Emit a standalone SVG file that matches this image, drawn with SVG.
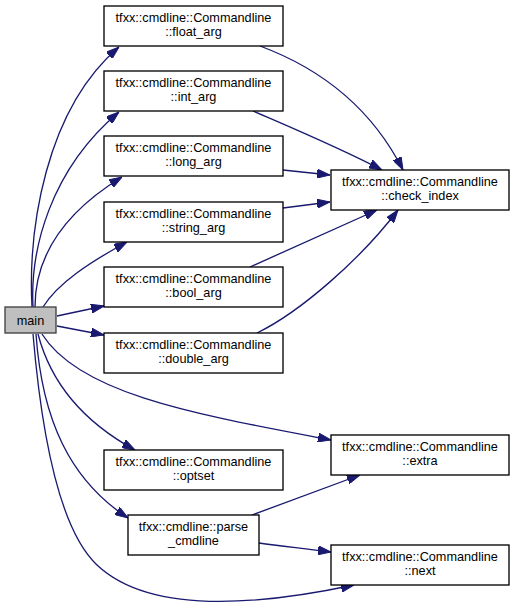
<svg xmlns="http://www.w3.org/2000/svg" width="515" height="611" viewBox="0 0 515 611">
<style>
.n rect{fill:#ffffff;stroke:#000000;stroke-width:1.33}
.n.m rect{fill:#bfbfbf;stroke:#404040}
.n text{font-family:"Liberation Sans",Arial,Helvetica,sans-serif;font-size:12.7px;fill:#000000;text-anchor:middle}
.e path{fill:none;stroke:#191970;stroke-width:1.33;marker-end:url(#ah)}
</style>
<defs>
<marker id="ah" viewBox="0 0 13 9" refX="13" refY="4.5" markerWidth="13" markerHeight="9" markerUnits="userSpaceOnUse" orient="auto">
<path d="M0,0 L13,4.5 L0,9 z" fill="#191970" stroke="#191970" stroke-width="1"/>
</marker>
</defs>
<rect width="515" height="611" fill="#ffffff"/>
<g id="edges" class="e">
<path d="M32,307 C28,230 45,110 119,47"/>
<path d="M33,307 C30,250 50,170 119,112"/>
<path d="M35,307 C35,260 60,215 122,177"/>
<path d="M43,307 C58,283 90,262 127,242"/>
<path d="M57,316 L104,306"/>
<path d="M57,326 L104,335"/>
<path d="M42,334 C80,395 200,415 331,440"/>
<path d="M38,334 C50,380 80,420 135,450"/>
<path d="M36,334 C42,420 70,480 128,518"/>
<path d="M33,334 C42,440 60,530 97,565 C150,615 260,605 354,585"/>
<path d="M260,46 C330,72 375,115 403,170"/>
<path d="M253,111 C290,127 340,148 382,170"/>
<path d="M283,170 L330,175"/>
<path d="M283,208 L330,202"/>
<path d="M250,267 L377,210"/>
<path d="M257,333 C300,312 360,260 398,210"/>
<path d="M252,515 L360,475"/>
<path d="M259,543 C280,546 300,548 331,552"/>
</g>
<g id="node-main" class="n m"><rect x="5" y="307" width="51" height="26"/><text x="30.5" y="324.5">main</text></g>
<g id="node-float_arg" class="n"><rect x="104" y="6" width="179" height="40"/><text x="193.5" y="21.5">tfxx::cmdline::Commandline</text><text x="193.5" y="35.5">::float_arg</text></g>
<g id="node-int_arg" class="n"><rect x="104" y="71" width="179" height="40"/><text x="193.5" y="86.5">tfxx::cmdline::Commandline</text><text x="193.5" y="100.5">::int_arg</text></g>
<g id="node-long_arg" class="n"><rect x="104" y="136" width="179" height="40"/><text x="193.5" y="151.5">tfxx::cmdline::Commandline</text><text x="193.5" y="165.5">::long_arg</text></g>
<g id="node-string_arg" class="n"><rect x="104" y="202" width="179" height="40"/><text x="193.5" y="217.5">tfxx::cmdline::Commandline</text><text x="193.5" y="231.5">::string_arg</text></g>
<g id="node-bool_arg" class="n"><rect x="104" y="267" width="179" height="40"/><text x="193.5" y="282.5">tfxx::cmdline::Commandline</text><text x="193.5" y="296.5">::bool_arg</text></g>
<g id="node-double_arg" class="n"><rect x="104" y="333" width="179" height="40"/><text x="193.5" y="348.5">tfxx::cmdline::Commandline</text><text x="193.5" y="362.5">::double_arg</text></g>
<g id="node-optset" class="n"><rect x="104" y="450" width="179" height="40"/><text x="193.5" y="465.5">tfxx::cmdline::Commandline</text><text x="193.5" y="479.5">::optset</text></g>
<g id="node-parse_cmdline" class="n"><rect x="128" y="515" width="131" height="40"/><text x="193.5" y="530.5">tfxx::cmdline::parse</text><text x="193.5" y="544.5">_cmdline</text></g>
<g id="node-check_index" class="n"><rect x="331" y="170" width="178" height="40"/><text x="420" y="185.5">tfxx::cmdline::Commandline</text><text x="420" y="199.5">::check_index</text></g>
<g id="node-extra" class="n"><rect x="331" y="435" width="178" height="40"/><text x="420" y="450.5">tfxx::cmdline::Commandline</text><text x="420" y="464.5">::extra</text></g>
<g id="node-next" class="n"><rect x="331" y="545" width="178" height="40"/><text x="420" y="560.5">tfxx::cmdline::Commandline</text><text x="420" y="574.5">::next</text></g>
</svg>
